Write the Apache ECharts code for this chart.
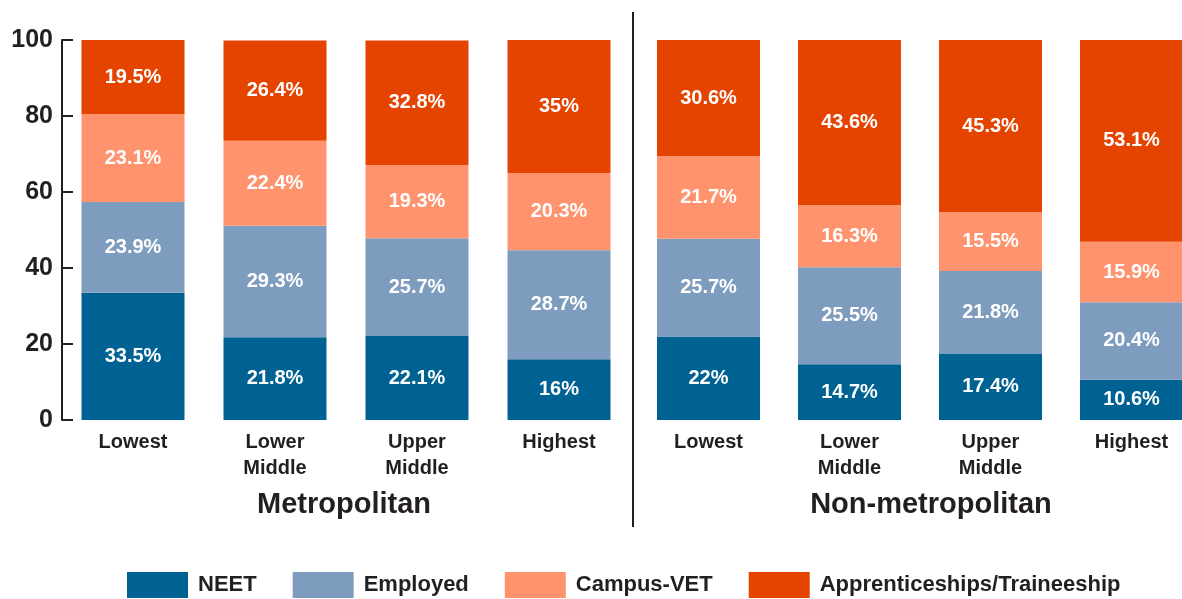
<!DOCTYPE html>
<html>
<head>
<meta charset="utf-8">
<script src="https://cdn.jsdelivr.net/npm/echarts@6/dist/echarts.min.js"></script>
<style>
  html, body { margin: 0; padding: 0; background: #fff; }
  #main { width: 1182px; height: 599px; }
</style>
</head>
<body>
<div id="main"></div>
<script>
const categories = ["Lowest", "Lower\nMiddle", "Upper\nMiddle", "Highest"];
const groups = ["Metropolitan", "Non-metropolitan"];
const seriesNames = ["NEET", "Employed", "Campus-VET", "Apprenticeships/Traineeship"];

const metroNeet = [33.5, 21.8, 22.1, 16];
const metroEmployed = [23.9, 29.3, 25.7, 28.7];
const metroCampus = [23.1, 22.4, 19.3, 20.3];
const metroAppr = [19.5, 26.4, 32.8, 35];

const nonNeet = [22, 14.7, 17.4, 10.6];
const nonEmployed = [25.7, 25.5, 21.8, 20.4];
const nonCampus = [21.7, 16.3, 15.5, 15.9];
const nonAppr = [30.6, 43.6, 45.3, 53.1];

const yTicks = [0, 20, 40, 60, 80, 100];

const colors = ["#006292", "#7e9cbe", "#fe936e", "#e44300"];
const ink = "#231f20";
const font = "'Liberation Sans', Arial, sans-serif";

const chart = echarts.init(document.getElementById("main"));

function makeSeries(values, idx, gridIdx) {
  return {
    name: seriesNames[idx],
    type: "bar",
    stack: "g" + gridIdx,
    xAxisIndex: gridIdx,
    yAxisIndex: gridIdx,
    barWidth: 103,
    itemStyle: { color: colors[idx] },
    label: {
      show: true,
      position: "inside",
      formatter: "{c}%",
      color: "#fff",
      fontWeight: "bold",
      fontSize: 20,
      fontFamily: font
    },
    data: values
  };
}

const xAxisBase = {
  type: "category",
  data: categories,
  axisLine: { show: false },
  axisTick: { show: false },
  axisLabel: {
    color: ink,
    fontSize: 20,
    fontWeight: "bold",
    fontFamily: font,
    lineHeight: 26,
    margin: 9
  }
};

const option = {
  animation: false,
  color: colors,
  grid: [
    { left: 62, top: 40, width: 568, height: 380, outerBoundsMode: "none" },
    { left: 638, top: 40, width: 564, height: 380, outerBoundsMode: "none" }
  ],
  xAxis: [
    Object.assign({ gridIndex: 0 }, xAxisBase),
    Object.assign({ gridIndex: 1 }, xAxisBase)
  ],
  yAxis: [
    {
      gridIndex: 0,
      type: "value",
      min: yTicks[0],
      max: yTicks[yTicks.length - 1],
      interval: 20,
      axisLine: { show: true, lineStyle: { color: ink, width: 2 } },
      axisTick: { show: true, inside: true, length: 11, lineStyle: { color: ink, width: 2 } },
      axisLabel: {
        color: ink,
        fontSize: 25,
        fontWeight: "bold",
        fontFamily: font,
        margin: 9
      },
      splitLine: { show: false }
    },
    {
      gridIndex: 1,
      type: "value",
      min: 0,
      max: 100,
      interval: 20,
      show: false,
      splitLine: { show: false }
    }
  ],
  legend: {
    data: seriesNames,
    left: 127,
    top: 572,
    padding: 0,
    itemWidth: 61,
    itemHeight: 26,
    itemGap: 36,
    icon: "rect",
    textStyle: {
      color: ink,
      fontSize: 22,
      fontWeight: "bold",
      fontFamily: font,
      padding: [0, 0, 0, 5]
    }
  },
  graphic: [
    {
      type: "line",
      shape: { x1: 633, y1: 12, x2: 633, y2: 527 },
      style: { stroke: ink, lineWidth: 2 }
    },
    {
      type: "text",
      x: 344,
      y: 505,
      style: {
        text: groups[0],
        fill: ink,
        font: "bold 29px " + font,
        textAlign: "center",
        textVerticalAlign: "middle"
      }
    },
    {
      type: "text",
      x: 931,
      y: 505,
      style: {
        text: groups[1],
        fill: ink,
        font: "bold 29px " + font,
        textAlign: "center",
        textVerticalAlign: "middle"
      }
    }
  ],
  series: [
    makeSeries(metroNeet, 0, 0),
    makeSeries(metroEmployed, 1, 0),
    makeSeries(metroCampus, 2, 0),
    makeSeries(metroAppr, 3, 0),
    makeSeries(nonNeet, 0, 1),
    makeSeries(nonEmployed, 1, 1),
    makeSeries(nonCampus, 2, 1),
    makeSeries(nonAppr, 3, 1)
  ]
};

chart.setOption(option);
</script>
</body>
</html>
